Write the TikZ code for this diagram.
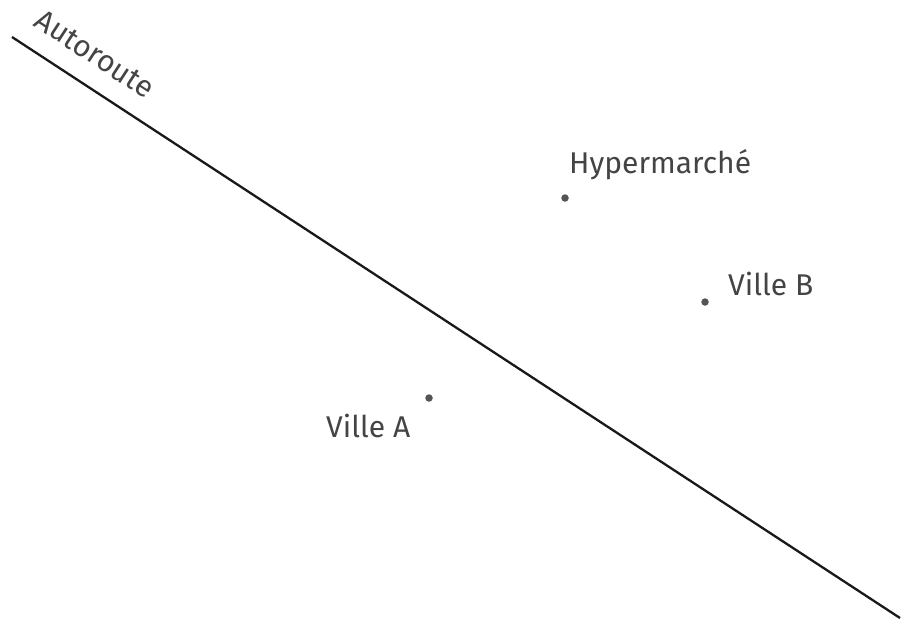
\documentclass[tikz,border=0pt]{standalone}
\usepackage{fontspec}
\setmainfont{Fira Sans}
\definecolor{txt}{HTML}{444444}
\definecolor{dotc}{HTML}{555555}
\begin{document}
\begin{tikzpicture}[x=1pt,y=-1pt,
  lbl/.style={anchor=base west,inner sep=0pt,text=txt,font=\fontsize{30}{36}\selectfont},
  pt/.style={circle,fill=dotc,inner sep=0pt,minimum size=7.5pt}]
\useasboundingbox (0,0) rectangle (902,625);
\coordinate (r1) at (12,37);
\coordinate (r2) at (900,618);
\draw[line width=2.3pt,black!90] (r1) -- (r2);
\node[text=txt,font=\fontsize{30}{36}\selectfont,rotate=-33.2,inner sep=0pt] (auto) at (95,54) {Autoroute};
\node[pt] (h) at (565,198) {};
\node[pt] (b) at (705,302) {};
\node[pt] (a) at (429,398) {};
\node[lbl] (hl) at (569,173) {Hypermarché};
\node[lbl] (bl) at (728,295) {Ville B};
\node[lbl] (al) at (326,437) {Ville A};
\end{tikzpicture}
\end{document}
